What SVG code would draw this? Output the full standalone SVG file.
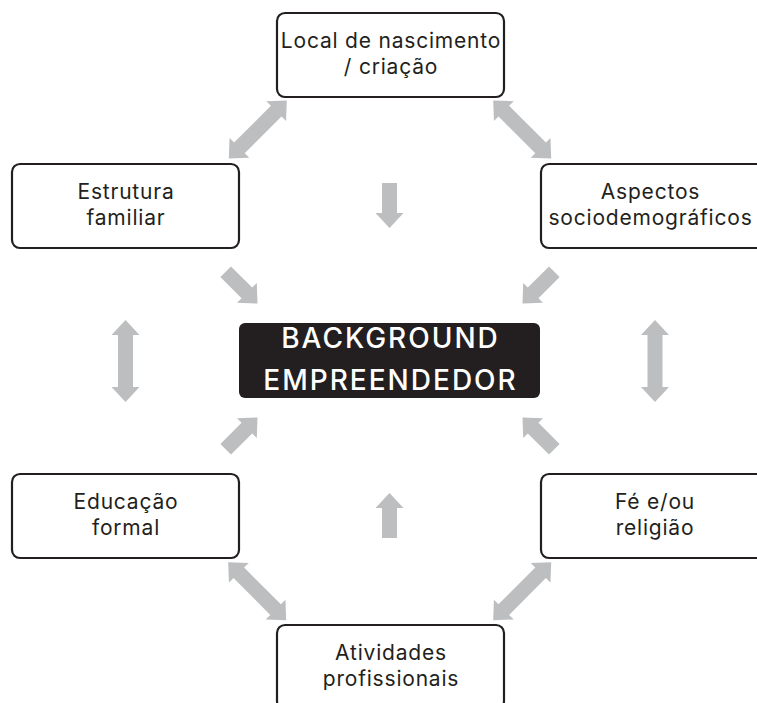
<svg xmlns="http://www.w3.org/2000/svg" xmlns:xlink="http://www.w3.org/1999/xlink" width="757" height="703" viewBox="0 0 757 703">
<style>
.box{fill:#ffffff;stroke:#231f20;stroke-width:2.2}
.lbl{font-family:Inter,"Liberation Sans",sans-serif;font-size:21px;letter-spacing:0.8px;fill:#231f20;text-anchor:middle}
.core{font-family:Inter,"Liberation Sans",sans-serif;font-size:28px;letter-spacing:2px;font-weight:500;fill:#ffffff;text-anchor:middle}
.arr{fill:#bcbec0}
</style>
<defs>
<path id="dbl" d="M-41,0 L-26,-14 L-26,-7.5 L26,-7.5 L26,-14 L41,0 L26,14 L26,7.5 L-26,7.5 L-26,14 Z"/>
<path id="sgl" d="M0,0 L-15,-14 L-15,-7.5 L-45,-7.5 L-45,7.5 L-15,7.5 L-15,14 Z"/>
</defs>
<g id="connectors" class="arr">
<use xlink:href="#dbl" transform="translate(257.8,129.5) rotate(-45)"/>
<use xlink:href="#dbl" transform="translate(522.2,129.5) rotate(45)"/>
<use xlink:href="#dbl" transform="translate(257.2,591.2) rotate(45)"/>
<use xlink:href="#dbl" transform="translate(522.2,591.2) rotate(-45)"/>
<use xlink:href="#dbl" transform="translate(125.5,361) rotate(90)"/>
<use xlink:href="#dbl" transform="translate(655,361) rotate(90)"/>
<use xlink:href="#sgl" transform="translate(389.5,228) rotate(90)"/>
<use xlink:href="#sgl" transform="translate(389.5,493) rotate(-90)"/>
<use xlink:href="#sgl" transform="translate(257.5,303.5) rotate(45)"/>
<use xlink:href="#sgl" transform="translate(522.5,303.5) rotate(135)"/>
<use xlink:href="#sgl" transform="translate(257.5,417.5) rotate(-45)"/>
<use xlink:href="#sgl" transform="translate(522.5,417.5) rotate(-135)"/>
</g>
<g id="local">
<rect class="box" x="277" y="13" width="227" height="84" rx="8"/>
<text class="lbl" x="391" y="48">Local de nascimento</text>
<text class="lbl" x="391" y="74">/ criação</text>
</g>
<g id="estrutura">
<rect class="box" x="12" y="164" width="227" height="84" rx="8"/>
<text class="lbl" x="126" y="199">Estrutura</text>
<text class="lbl" x="126" y="225">familiar</text>
</g>
<g id="aspectos">
<rect class="box" x="541" y="164" width="227" height="84" rx="8"/>
<text class="lbl" x="650.5" y="199">Aspectos</text>
<text class="lbl" x="650.5" y="225">sociodemográficos</text>
</g>
<g id="background">
<rect x="239" y="323" width="301" height="75" rx="6" fill="#231f20"/>
<text class="core" x="390.5" y="348">BACKGROUND</text>
<text class="core" x="390.5" y="390">EMPREENDEDOR</text>
</g>
<g id="educacao">
<rect class="box" x="12" y="474" width="227" height="84" rx="8"/>
<text class="lbl" x="126" y="509">Educação</text>
<text class="lbl" x="126" y="535">formal</text>
</g>
<g id="fe">
<rect class="box" x="541" y="474" width="227" height="84" rx="8"/>
<text class="lbl" x="655" y="509">Fé e/ou</text>
<text class="lbl" x="655" y="535">religião</text>
</g>
<g id="atividades">
<rect class="box" x="277" y="625" width="227" height="84" rx="8"/>
<text class="lbl" x="391" y="660">Atividades</text>
<text class="lbl" x="391" y="686">profissionais</text>
</g>
</svg>
